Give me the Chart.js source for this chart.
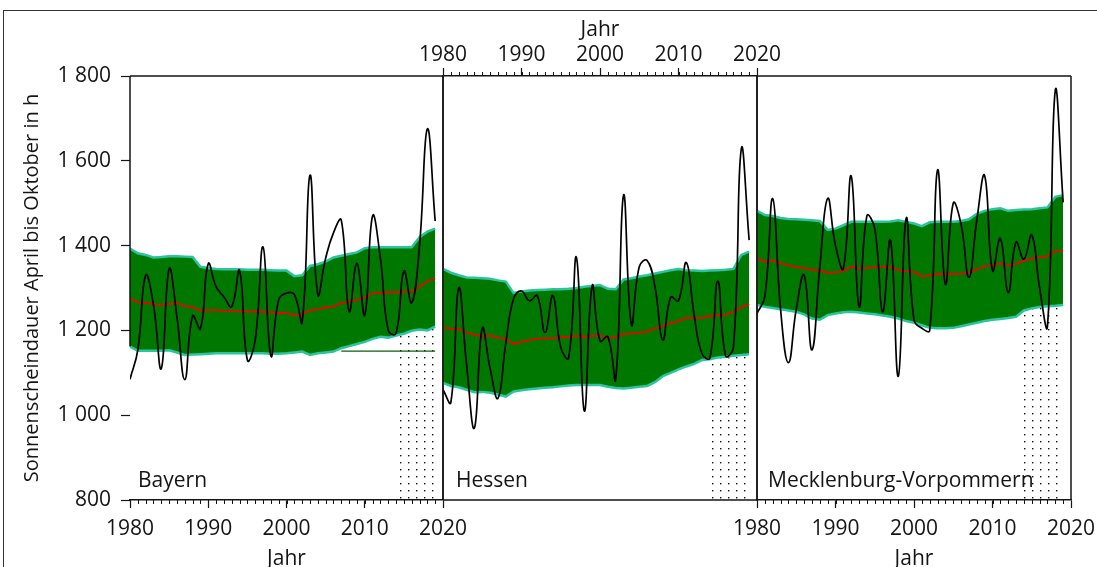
<!DOCTYPE html>
<html lang="de">
<head>
<meta charset="utf-8">
<title>Sonnenscheindauer April bis Oktober</title>
<script src="https://cdn.jsdelivr.net/npm/chart.js@4.4.1/dist/chart.umd.min.js"></script>
<style>
  html, body { margin: 0; padding: 0; background: #fff; overflow: hidden; }
  #wrap { position: relative; width: 1097px; height: 567px; overflow: hidden; }
  #wrap canvas { position: absolute; left: 0; top: 0; }
  #frame { position: absolute; left: 3px; top: 10px; width: 1200px; height: 700px;
           border-top: 1.5px solid #333; border-left: 1.5px solid #333; }
</style>
</head>
<body>
<div id="wrap">
  <div id="frame"></div>
  <canvas id="bayern" width="1140" height="600"></canvas>
  <canvas id="hessen" width="1140" height="600"></canvas>
  <canvas id="mv" width="1140" height="600"></canvas>
</div>
<script>
// Jahre 1980-2019
const years = [1980, 1981, 1982, 1983, 1984, 1985, 1986, 1987, 1988, 1989,
               1990, 1991, 1992, 1993, 1994, 1995, 1996, 1997, 1998, 1999,
               2000, 2001, 2002, 2003, 2004, 2005, 2006, 2007, 2008, 2009,
               2010, 2011, 2012, 2013, 2014, 2015, 2016, 2017, 2018, 2019];
const xTicks = [1980, 1990, 2000, 2010, 2020];
const yTicks = [800, 1000, 1200, 1400, 1600, 1800];
const hatchStart = 2014;  // gepunkteter Bereich ab diesem Jahr

// Bayern
const sunBY  = [1085, 1154, 1330, 1260, 1110, 1345, 1232, 1084, 1234, 1204,
                1357, 1303, 1279, 1256, 1341, 1130, 1177, 1397, 1140, 1272,
                1288, 1285, 1220, 1566, 1285, 1370, 1430, 1460, 1245, 1358,
                1236, 1470, 1370, 1200, 1193, 1340, 1265, 1400, 1675, 1458];
const meanBY = [1275, 1266, 1265, 1262, 1261, 1262, 1265, 1257, 1255, 1247,
                1248, 1248, 1246, 1245, 1245, 1245, 1244, 1244, 1243, 1241,
                1242, 1235, 1238, 1247, 1250, 1254, 1256, 1265, 1268, 1272,
                1277, 1288, 1289, 1290, 1290, 1291, 1292, 1303, 1316, 1323];
const upBY   = [1393, 1382, 1378, 1372, 1373, 1375, 1375, 1374, 1373, 1350,
                1347, 1345, 1344, 1344, 1344, 1343, 1343, 1343, 1342, 1341,
                1341, 1328, 1330, 1352, 1356, 1362, 1372, 1376, 1380, 1384,
                1394, 1396, 1396, 1396, 1396, 1396, 1396, 1420, 1433, 1440];
const lowBY  = [1162, 1152, 1152, 1152, 1152, 1153, 1148, 1142, 1143, 1144,
                1145, 1146, 1146, 1146, 1146, 1146, 1146, 1146, 1145, 1145,
                1146, 1148, 1150, 1142, 1146, 1148, 1150, 1158, 1163, 1168,
                1173, 1180, 1185, 1183, 1188, 1192, 1199, 1202, 1200, 1209];
const refYearsBY = [2007, 2019];
const refBY      = [1151, 1151];

// Hessen
const sunHE  = [1060, 1030, 1300, 1120, 970, 1205, 1110, 1040, 1170, 1275,
                1293, 1270, 1282, 1195, 1282, 1160, 1135, 1372, 1010, 1305,
                1175, 1185, 1085, 1519, 1214, 1350, 1365, 1303, 1177, 1278,
                1270, 1360, 1235, 1145, 1135, 1316, 1140, 1160, 1628, 1413];
const meanHE = [1207, 1203, 1203, 1195, 1190, 1186, 1188, 1183, 1180, 1168,
                1173, 1177, 1180, 1182, 1181, 1184, 1185, 1187, 1185, 1187,
                1188, 1182, 1184, 1191, 1193, 1195, 1197, 1205, 1210, 1217,
                1222, 1230, 1229, 1229, 1234, 1236, 1238, 1243, 1255, 1262];
const upHE   = [1345, 1336, 1330, 1325, 1324, 1323, 1322, 1318, 1315, 1288,
                1292, 1294, 1295, 1296, 1297, 1297, 1298, 1300, 1303, 1305,
                1307, 1298, 1297, 1320, 1323, 1327, 1330, 1334, 1338, 1342,
                1345, 1342, 1341, 1340, 1341, 1342, 1343, 1345, 1378, 1386];
const lowHE  = [1076, 1069, 1066, 1060, 1054, 1055, 1053, 1049, 1044, 1056,
                1059, 1061, 1063, 1065, 1066, 1068, 1070, 1071, 1071, 1071,
                1071, 1067, 1064, 1063, 1065, 1067, 1069, 1078, 1092, 1100,
                1108, 1115, 1121, 1130, 1132, 1136, 1138, 1140, 1142, 1144];

// Mecklenburg-Vorpommern
const sunMV  = [1240, 1280, 1511, 1250, 1124, 1250, 1330, 1154, 1350, 1511,
                1400, 1346, 1564, 1256, 1470, 1440, 1244, 1413, 1092, 1464,
                1225, 1205, 1200, 1578, 1309, 1500, 1450, 1325, 1460, 1565,
                1341, 1417, 1289, 1408, 1368, 1425, 1300, 1210, 1767, 1502];
const meanMV = [1370, 1362, 1365, 1358, 1354, 1350, 1347, 1343, 1341, 1336,
                1337, 1340, 1350, 1347, 1347, 1350, 1350, 1349, 1342, 1340,
                1338, 1327, 1330, 1333, 1333, 1333, 1334, 1337, 1344, 1351,
                1354, 1358, 1353, 1357, 1364, 1370, 1372, 1375, 1388, 1388];
const upMV   = [1482, 1472, 1470, 1465, 1463, 1462, 1461, 1460, 1458, 1437,
                1440, 1448, 1456, 1456, 1456, 1456, 1456, 1457, 1460, 1456,
                1452, 1446, 1455, 1456, 1456, 1456, 1458, 1462, 1475, 1482,
                1486, 1488, 1482, 1484, 1485, 1486, 1488, 1490, 1515, 1519];
const lowMV  = [1260, 1256, 1253, 1250, 1247, 1244, 1238, 1228, 1225, 1236,
                1240, 1243, 1244, 1242, 1240, 1238, 1235, 1232, 1228, 1222,
                1218, 1212, 1206, 1205, 1205, 1206, 1210, 1214, 1218, 1222,
                1225, 1227, 1229, 1232, 1247, 1252, 1255, 1257, 1258, 1260];

const FONT = '"Open Sans", "Noto Sans", sans-serif';
const INK = '#141414';
const W = 1140;  // Canvasbreite, rechts abgeschnitten

// Punktraster fuer den Zeitraum ab 2014
function dotPattern() {
    const c = document.createElement('canvas');
    c.width = 8; c.height = 7;
    const g = c.getContext('2d');
    g.fillStyle = '#111';
    g.fillRect(0, 0, 1.4, 1.4);
    return g.createPattern(c, 'repeat');
}
const dots = dotPattern();

const pts = (xs, vals) => xs.map((x, i) => ({x: x, y: vals[i]}));

// 1800 -> "1 800"
function fmtHours(v) {
    if (v < 1000) return String(v);
    return Math.floor(v / 1000) + ' ' + String(v % 1000).padStart(3, '0');
}

// Rahmen um die Zeichenflaeche
const panelFrame = {
    id: 'panelFrame',
    afterDraw(chart, args, opts) {
        const {ctx, chartArea: a} = chart;
        ctx.save();
        ctx.strokeStyle = INK;
        ctx.lineWidth = 1.5;
        ctx.beginPath();
        if (opts.top)    { ctx.moveTo(a.left, a.top);    ctx.lineTo(a.right, a.top); }
        if (opts.bottom) { ctx.moveTo(a.left, a.bottom); ctx.lineTo(a.right, a.bottom); }
        if (opts.right)  { ctx.moveTo(a.right, a.top);   ctx.lineTo(a.right, a.bottom); }
        if (opts.left) {
            const end = opts.leftTo != null ? chart.scales.y.getPixelForValue(opts.leftTo) : a.bottom;
            ctx.moveTo(a.left, a.top); ctx.lineTo(a.left, end);
        }
        ctx.stroke();
        ctx.restore();
    }
};

// kleine Jahresstriche an der Zeitachse
const yearTicks = {
    id: 'yearTicks',
    afterDraw(chart, args, opts) {
        const xs = chart.scales.x;
        const ctx = chart.ctx;
        const top = opts.side === 'top';
        const edge = top ? xs.bottom : xs.top;
        ctx.save();
        ctx.strokeStyle = INK;
        ctx.lineWidth = 1;
        ctx.beginPath();
        years.forEach(yr => {
            const px = Math.round(xs.getPixelForValue(yr)) + 0.5;
            ctx.moveTo(px, edge);
            ctx.lineTo(px, edge + (top ? -4 : 4));
        });
        ctx.stroke();
        ctx.restore();
    }
};

// Name des Bundeslandes unten links
const panelName = {
    id: 'panelName',
    afterDraw(chart, args, opts) {
        const {ctx, chartArea: a} = chart;
        ctx.save();
        ctx.font = '21px ' + FONT;
        ctx.fillStyle = INK;
        ctx.textBaseline = 'alphabetic';
        ctx.fillText(opts.text, a.left + opts.dx, a.bottom - 13);
        ctx.restore();
    }
};

function datasets(sun, mean, up, low) {
    const hatchYears = years.filter(y => y >= hatchStart);
    const hatchVals = low.slice(years.indexOf(hatchStart));
    return [
        {data: pts(years, sun), borderColor: '#000', borderWidth: 1.7, tension: 0.45, pointRadius: 0},
        {data: pts(years, mean), borderColor: '#f00000', borderWidth: 1.8, tension: 0, pointRadius: 0},
        {data: pts(years, up), borderColor: '#2ac4a2', borderWidth: 2.5, backgroundColor: '#007800',
         fill: '+1', pointRadius: 0},
        {data: pts(years, low), borderColor: '#2ac4a2', borderWidth: 2.5, fill: false, pointRadius: 0},
        {data: pts(hatchYears, hatchVals), borderWidth: 0, borderColor: 'rgba(0,0,0,0)',
         backgroundColor: dots, fill: {value: 800}, pointRadius: 0}
    ];
}

function xAxis(side) {
    const top = side === 'top';
    return {
        type: 'linear', min: 1980, max: 2020,
        position: side,
        afterBuildTicks: s => { s.ticks = xTicks.map(v => ({value: v})); },
        afterFit: s => { s.height = top ? 76 : 100; },
        ticks: {
            callback: v => String(v), autoSkip: false, maxRotation: 0,
            padding: top ? 0 : 8, color: INK, font: {family: FONT, size: 21}
        },
        grid: {drawOnChartArea: false, drawTicks: true, tickLength: 8, tickColor: INK, tickWidth: 1.2},
        border: {display: true, color: INK, width: 1.5},
        title: {
            display: true, text: 'Jahr', color: INK, font: {family: FONT, size: 21},
            padding: top ? {top: 17, bottom: 0} : {top: 0, bottom: 28}
        }
    };
}

function yAxis(show) {
    return {
        type: 'linear', min: 800, max: 1800,
        display: show,
        afterBuildTicks: s => { s.ticks = yTicks.map(v => ({value: v})); },
        afterFit: s => { s.width = show ? 130 : 0; },
        ticks: {callback: v => fmtHours(v), padding: 10, color: INK, font: {family: FONT, size: 21}},
        grid: {drawOnChartArea: false, drawTicks: true, tickLength: 9, tickColor: INK, tickWidth: 1.2},
        border: {display: false},
        title: {
            display: true, text: 'Sonnenscheindauer April bis Oktober in h', color: INK,
            font: {family: FONT, size: 20}, padding: {top: 20, bottom: 0}
        }
    };
}

function panel(id, cfg) {
    const sets = datasets(...cfg.series);
    if (cfg.extra) sets.push(cfg.extra);
    return new Chart(document.getElementById(id), {
        type: 'line',
        data: {datasets: sets},
        options: {
            responsive: false,
            animation: false,
            layout: {padding: cfg.padding},
            plugins: {
                legend: {display: false},
                tooltip: {enabled: false},
                filler: {drawTime: 'beforeDatasetsDraw'},
                panelFrame: cfg.frame,
                yearTicks: {side: cfg.side},
                panelName: {text: cfg.name, dx: cfg.nameDx}
            },
            scales: {
                x: xAxis(cfg.side),
                y: yAxis(cfg.showY)
            }
        },
        plugins: [panelFrame, yearTicks, panelName]
    });
}

panel('bayern', {
    series: [sunBY, meanBY, upBY, lowBY],
    extra: {data: pts(refYearsBY, refBY), borderColor: '#0d5f0d', borderWidth: 1.2, pointRadius: 0, fill: false},
    name: 'Bayern', nameDx: 8,
    side: 'bottom', showY: true,
    padding: {left: 0, right: W - 443, top: 76, bottom: 0},
    frame: {top: true, right: true, left: true, leftTo: lowBY[0]}
});

panel('hessen', {
    series: [sunHE, meanHE, upHE, lowHE],
    name: 'Hessen', nameDx: 13,
    side: 'top', showY: false,
    padding: {left: 443, right: W - 757, top: 0, bottom: 100},
    frame: {left: true, right: true, bottom: true}
});

panel('mv', {
    series: [sunMV, meanMV, upMV, lowMV],
    name: 'Mecklenburg-Vorpommern', nameDx: 11,
    side: 'bottom', showY: false,
    padding: {left: 757, right: W - 1071, top: 76, bottom: 0},
    frame: {top: true, right: true, left: true}
});
</script>
</body>
</html>
